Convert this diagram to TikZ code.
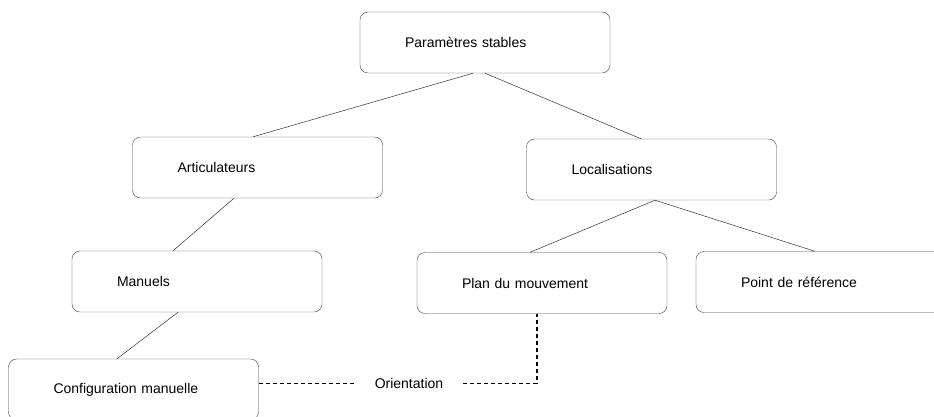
\documentclass[tikz,border=0pt]{standalone}
\usepackage{fontspec}
\setmainfont{Liberation Sans}
\begin{document}
\begin{tikzpicture}[x=1pt,y=-1pt,
    box/.style={draw=black!75,rounded corners=8pt,minimum height=61pt,
      inner xsep=45pt,text width=160pt,align=left,
      font=\fontsize{14}{16}\selectfont},
    link/.style={draw=black!80,line width=0.5pt},
    assoc/.style={draw=black,line width=1.1pt,dash pattern=on 4pt off 3pt}]
      \useasboundingbox (0,0) rectangle (934,416);
      \clip (0,0) rectangle (934,416);
      \node[box] (para) at (485,42.5) {Paramètres stables};
      \node[box] (artic) at (257.5,167.5) {Articulateurs};
      \node[box] (loc) at (651.5,169.5) {Localisations};
      \node[box] (manuels) at (197,281.5) {Manuels};
      \node[box] (plan) at (542,283) {Plan du mouvement};
      \node[box] (point) at (821,282) {Point de référence};
      \node[box] (config) at (133.5,389.5) {Configuration manuelle};
      \node[inner xsep=20pt,font=\fontsize{14}{16}\selectfont] (orient) at (409,383.5) {Orientation};
      \draw[link] ([xshift=-12pt]para.south) -- ([xshift=-4.5pt]artic.north);
      \draw[link] (para.south) -- ([xshift=-10.5pt]loc.north);
      \draw[link] ([xshift=-23.5pt]artic.south) -- ([xshift=-24pt]manuels.north);
      \draw[link] ([xshift=-19pt]manuels.south) -- ([xshift=-16.5pt]config.north);
      \draw[link] ([xshift=3.5pt]loc.south) -- ([xshift=-12pt]plan.north);
      \draw[link] ([xshift=3.5pt]loc.south) -- ([xshift=-6pt]point.north);
      \draw[assoc] (config.east |- orient.west) -- (orient.west);
      \draw[assoc] (orient.east) -| ([xshift=-5pt]plan.south);
    \end{tikzpicture}
\end{document}
